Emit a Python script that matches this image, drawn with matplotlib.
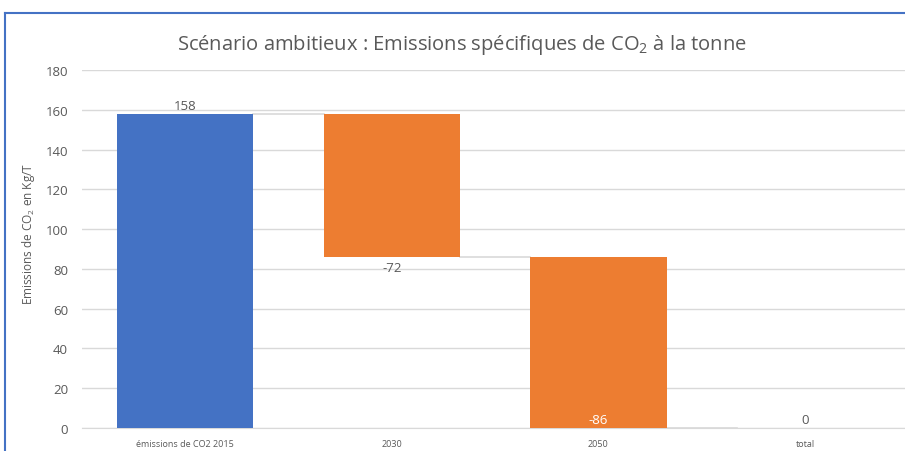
import matplotlib
matplotlib.use("Agg")
import matplotlib.pyplot as plt
from matplotlib.lines import Line2D

plt.rcParams['font.family'] = ['Open Sans', 'DejaVu Sans']
plt.rcParams['mathtext.fontset'] = 'custom'
plt.rcParams['mathtext.rm'] = 'Open Sans'
plt.rcParams['mathtext.it'] = 'Open Sans'

# Waterfall data
categories = ['émissions de CO2 2015', '2030', '2050', 'total']
changes = [158, -72, -86, 0]
labels = ['158', '-72', '-86', '0']
yticks = [0, 20, 40, 60, 80, 100, 120, 140, 160, 180]

BLUE = '#4472C4'
ORANGE = '#ED7D31'
GRID = '#D9D9D9'
TXT = '#595959'

fig = plt.figure(figsize=(9.05, 4.52), dpi=100)
ax = fig.add_axes([0.0906, 0.0509, 0.913, 0.792])

x = list(range(len(categories)))
width = 0.66

# running totals
level = 0
bottoms, heights = [], []
for i, c in enumerate(changes):
    if i == 0:
        bottoms.append(0)
        heights.append(c)
        level = c
    elif i == len(changes) - 1:
        bottoms.append(0)
        heights.append(level)
    else:
        new = level + c
        bottoms.append(min(level, new))
        heights.append(abs(c))
        level = new

colors = [BLUE] + [ORANGE] * (len(changes) - 2) + [BLUE]
ax.bar(x, heights, bottom=bottoms, width=width, color=colors, zorder=3)

# connector lines
level = 0
for i in range(len(changes) - 1):
    level = level + changes[i]
    ax.plot([x[i] + width / 2, x[i + 1] - width / 2], [level, level],
            color=GRID, lw=1.2, zorder=2)

# data labels
ax.text(x[0], heights[0] + 1, labels[0], ha='center', va='bottom', color=TXT, fontsize=9.5)
ax.text(x[1], bottoms[1] - 2, labels[1], ha='center', va='top', color=TXT, fontsize=9.5)
ax.text(x[2], bottoms[2] + 1, labels[2], ha='center', va='bottom', color='white', fontsize=9.5)
ax.text(x[3], 1, labels[3], ha='center', va='bottom', color=TXT, fontsize=9.5)

ax.set_xlim(-0.5, len(categories) - 0.5)
ax.set_ylim(0, 180)
ax.set_yticks(yticks)
ax.set_xticks(x)
ax.set_xticklabels(categories, fontsize=6.5, color=TXT)
ax.tick_params(axis='y', labelsize=9.5, colors=TXT, length=0, pad=10)
ax.tick_params(axis='x', length=0, pad=8)
ax.grid(axis='y', color=GRID, lw=1, zorder=0)
for s in ['top', 'right', 'left']:
    ax.spines[s].set_visible(False)
ax.spines['bottom'].set_color(GRID)
ax.set_ylabel('Emissions de CO$_2$ en Kg/T', color=TXT, fontsize=8.5)
ax.yaxis.set_label_coords(-0.055, 0.545)

fig.text(0.51, 0.90, 'Scénario ambitieux : Emissions spécifiques de CO$_2$ à la tonne',
         ha='center', va='center', color=TXT, fontsize=14.5)

# screenshot frame
fig.add_artist(Line2D([0.0055, 0.0055], [0, 0.969], color='#4472C4', lw=1.5))
fig.add_artist(Line2D([0.0055, 1], [0.969, 0.969], color='#4472C4', lw=1.5))

fig.savefig('out.png', dpi=100)
